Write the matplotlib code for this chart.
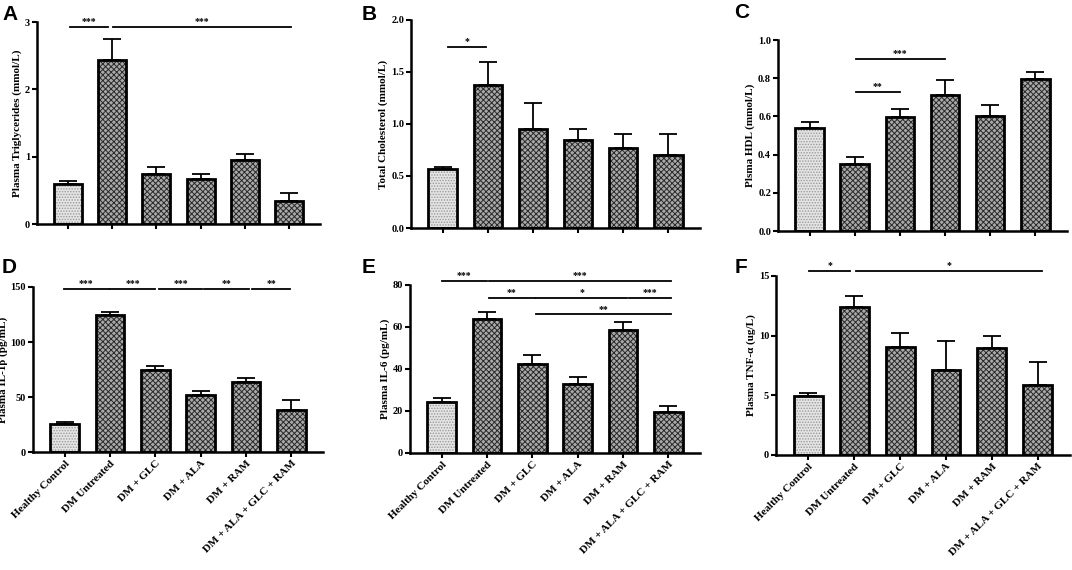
import matplotlib.pyplot as plt
import numpy as np

GROUPS = ["Healthy Control", "DM Untreated", "DM + GLC", "DM + ALA",
          "DM + RAM", "DM + ALA + GLC + RAM"]

# means and upper error (mean + SEM)
tg_mean = [0.59, 2.44, 0.75, 0.67, 0.95, 0.34]
tg_top  = [0.64, 2.75, 0.85, 0.75, 1.04, 0.46]
tc_mean = [0.565, 1.375, 0.95, 0.85, 0.77, 0.70]
tc_top  = [0.59, 1.60, 1.20, 0.95, 0.90, 0.90]
hdl_mean = [0.54, 0.35, 0.595, 0.714, 0.604, 0.794]
hdl_top  = [0.57, 0.39, 0.64, 0.79, 0.66, 0.834]
il1_mean = [25.8, 124.5, 75.0, 52.0, 64.0, 38.6]
il1_top  = [27.0, 127.2, 78.0, 55.3, 67.4, 47.7]
il6_mean = [24.3, 63.7, 42.2, 32.9, 58.5, 19.3]
il6_top  = [26.4, 67.2, 46.5, 36.2, 62.6, 22.5]
tnf_mean = [4.97, 12.43, 9.05, 7.1, 8.97, 5.87]
tnf_top  = [5.2, 13.35, 10.25, 9.55, 10.0, 7.8]

# significance bars: (x_start, x_end, y, stars)
sig_A = [(0.05, 0.9, 2.93, "***"), (1.02, 5.05, 2.93, "***")]
sig_B = [(0.13, 0.97, 1.74, "*")]
sig_C = [(1.02, 3.0, 0.90, "***"), (1.02, 2.0, 0.727, "**")]
sig_D = [(-0.02, 0.97, 148, "***"), (1.01, 2.0, 148, "***"), (2.09, 3.02, 148, "***"),
         (3.08, 4.07, 148, "**"), (4.14, 4.98, 148, "**")]
sig_E = [(0.0, 0.99, 82, "***"), (1.04, 5.07, 82, "***"),
         (1.04, 2.05, 74, "**"), (2.09, 4.09, 74, "*"), (4.13, 5.07, 74, "***"),
         (2.09, 5.07, 66, "**")]
sig_F = [(0.02, 0.92, 15.4, "*"), (1.03, 5.09, 15.4, "*")]

SERIF = "Liberation Serif"
plt.rcParams["hatch.linewidth"] = 0.7

fig = plt.figure(figsize=(10.72, 5.7), dpi=100)


def panel(rect, letter, letter_xy, mean, top, yticks, ylabel, sigs,
          xlabels=False, fmt=None):
    ax = fig.add_axes(rect)
    x = np.arange(len(mean))
    mean = np.array(mean)
    err = np.array(top) - mean
    face = ["#e4e4e4"] + ["#a9a9a9"] * 5
    hatch_col = ["#9a9a9a"] + ["#2a2a2a"] * 5
    hatches = ["......"] + ["xxxxxx"] * 5
    for i in range(len(mean)):
        ax.bar(x[i], mean[i], width=0.63, color=face[i], edgecolor=hatch_col[i],
               hatch=hatches[i], linewidth=0, zorder=2)
        ax.bar(x[i], mean[i], width=0.63, fill=False, edgecolor="black",
               linewidth=2, zorder=3)
    ax.errorbar(x, mean, yerr=[np.zeros_like(err), err], fmt="none", ecolor="black",
                elinewidth=1.3, capsize=6.5, capthick=1.3, zorder=1)
    ax.set_xlim(-0.7, 5.7)
    ax.set_ylim(yticks[0], yticks[-1])
    ax.set_yticks(yticks)
    if fmt:
        ax.set_yticklabels([fmt % v for v in yticks])
    ax.set_xticks(x)
    if xlabels:
        ax.set_xticklabels(GROUPS, rotation=45, ha="right", rotation_mode="anchor",
                           fontfamily=SERIF, fontweight="bold", fontsize=8)
    else:
        ax.set_xticklabels([])
    for lab in ax.get_yticklabels():
        lab.set_fontfamily(SERIF)
        lab.set_fontweight("bold")
        lab.set_fontsize(7.5)
    ax.set_ylabel(ylabel, fontfamily=SERIF, fontweight="bold", fontsize=8, labelpad=2)
    for s in ["top", "right"]:
        ax.spines[s].set_visible(False)
    for s in ["left", "bottom"]:
        ax.spines[s].set_linewidth(1.8)
    ax.tick_params(axis="both", width=1.5, length=3.5, pad=1.5)
    ymax = yticks[-1]
    for x1, x2, y, txt in sigs:
        ax.plot([x1, x2], [y, y], color="black", lw=1.3, clip_on=False, zorder=4)
        ax.text((x1 + x2) / 2, y + ymax * 0.005, txt, ha="center", va="bottom",
                fontfamily=SERIF, fontweight="bold", fontsize=7, clip_on=False)
    fig.text(letter_xy[0] / 1072, 1 - letter_xy[1] / 570, letter,
             fontfamily="Liberation Sans", fontweight="bold", fontsize=15,
             ha="left", va="top")
    return ax


panel([0.0345, 0.607, 0.264, 0.354], "A", (2, 5), tg_mean, tg_top,
      [0, 1, 2, 3], "Plasma Triglycerides (mmol/L)", sig_A)
panel([0.3834, 0.600, 0.2696, 0.365], "B", (362, 5), tc_mean, tc_top,
      [0.0, 0.5, 1.0, 1.5, 2.0], "Total Cholesterol (mmol/L)", sig_B, fmt="%.1f")
panel([0.7257, 0.5947, 0.2696, 0.335], "C", (734, 3), hdl_mean, hdl_top,
      [0.0, 0.2, 0.4, 0.6, 0.8, 1.0], "Plsma HDL (mmol/L)", sig_C, fmt="%.1f")
panel([0.0308, 0.207, 0.2705, 0.2895], "D", (2, 258), il1_mean, il1_top,
      [0, 50, 100, 150], "Plasma IL-1β (pg/mL)", sig_D, xlabels=True)
panel([0.3825, 0.2053, 0.2705, 0.2947], "E", (362, 258), il6_mean, il6_top,
      [0, 20, 40, 60, 80], "Plasma IL-6 (pg/mL)", sig_E, xlabels=True)
panel([0.7239, 0.2018, 0.2743, 0.314], "F", (735, 258), tnf_mean, tnf_top,
      [0, 5, 10, 15], "Plasma TNF-α (ug/L)", sig_F, xlabels=True)

fig.savefig("out.png", dpi=100)
